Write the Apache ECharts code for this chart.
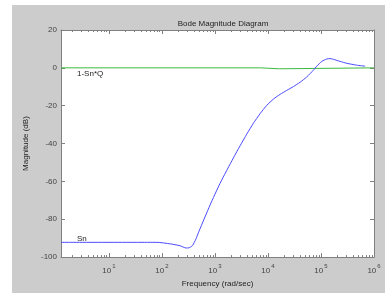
<!DOCTYPE html>
<html>
<head>
<meta charset="utf-8">
<script src="https://cdn.jsdelivr.net/npm/echarts@6/dist/echarts.min.js"></script>
<style>
html,body{margin:0;padding:0;background:#fff;}
#bg{position:absolute;left:12px;top:5px;width:373px;height:288px;background:#cccccc;}
#chart{position:absolute;left:0;top:0;width:385px;height:293px;}
</style>
</head>
<body>
<div id="bg"></div>
<div id="chart"></div>
<script>
// Frequencies (rad/sec) and magnitudes (dB)
const snFreq = [1.25, 81, 143, 220, 286, 331, 380, 437, 501, 809, 1250, 2228, 2979, 3990, 5309, 7112, 9506, 12680, 16940, 22650, 30200, 40360, 53950, 72110, 83370, 103700, 128800, 147900, 171800, 229100, 306900, 474300, 680800];
const snMag  = [-92.2, -92.2, -93.0, -94.0, -95.2, -95.0, -93.8, -90.5, -86.3, -72.5, -61.0, -47.6, -41.2, -35.0, -29.3, -24.2, -19.8, -16.5, -14.0, -11.9, -9.9, -7.6, -4.8, -1.2, 0.9, 3.4, 4.7, 4.9, 4.5, 3.4, 2.4, 1.4, 0.9];
const tFreq = [1.25, 7300, 7500, 16500, 17000, 1000000];
const tMag  = [0, 0, -0.5, -0.5, 0, 0];
const decades = [1, 10, 100, 1000, 10000, 100000, 1000000];
const minorMult = [2, 3, 4, 5, 6, 7, 8, 9];

const minorTicks = [];
decades.forEach(d => minorMult.forEach(m => { const v = d * m; if (v > 1.25 && v < 1e6) minorTicks.push([v, 0]); }));

const chart = echarts.init(document.getElementById('chart'), null, {renderer: 'canvas'});
const FONT = 'Liberation Sans, Arial, sans-serif';
const AX = '#808080';
const xFmt = v => {
  const l = Math.log10(v); const e = Math.round(l);
  if (Math.abs(l - e) > 1e-6) return '';
  return '{b|10}{s|' + e + '}';
};
const xAxisBase = {
  type: 'log', logBase: 10, min: 1.25, max: 1e6, splitNumber: 6,
  axisLine: {show: true, onZero: false, lineStyle: {color: AX, width: 1}},
  axisTick: {show: true, inside: true, length: 4, lineStyle: {color: AX}},
  splitLine: {show: false},
  minorTick: {show: false}
};
const yAxisBase = {
  type: 'value', min: -100, max: 20, interval: 20,
  axisLine: {show: true, onZero: false, lineStyle: {color: AX, width: 1}},
  axisTick: {show: true, inside: true, length: 4, lineStyle: {color: AX}},
  splitLine: {show: false}
};
chart.setOption({
  animation: false,
  backgroundColor: 'transparent',
  textStyle: {fontFamily: FONT},
  title: {
    text: 'Bode Magnitude Diagram', left: 218, top: 15, textAlign: 'center',
    textStyle: {fontFamily: FONT, fontSize: 8, fontWeight: 'normal', color: '#222'}
  },
  grid: {left: 61, right: 11, top: 30, bottom: 32, show: true, backgroundColor: '#ffffff', borderWidth: 0},
  xAxis: [
    Object.assign({}, xAxisBase, {
      position: 'bottom',
      name: 'Frequency (rad/sec)', nameLocation: 'middle', nameGap: 22,
      nameTextStyle: {fontFamily: FONT, fontSize: 8, color: '#222'},
      axisLabel: {
        show: true, margin: 6, formatter: xFmt, showMinLabel: true,
        rich: {
          b: {fontFamily: FONT, fontSize: 8, color: '#444', lineHeight: 12, verticalAlign: 'bottom'},
          s: {fontFamily: FONT, fontSize: 6, color: '#444', lineHeight: 12, verticalAlign: 'top', padding: [0, 0, 5, 1]}
        }
      }
    }),
    Object.assign({}, xAxisBase, {position: 'top', axisLabel: {show: false}})
  ],
  yAxis: [
    Object.assign({}, yAxisBase, {
      position: 'left',
      name: 'Magnitude (dB)', nameLocation: 'middle', nameGap: 26, nameRotate: 90,
      nameTextStyle: {fontFamily: FONT, fontSize: 8, color: '#222'},
      axisLabel: {show: true, margin: 4, fontFamily: FONT, fontSize: 8, color: '#444'}
    }),
    Object.assign({}, yAxisBase, {position: 'right', axisLabel: {show: false}})
  ],
  graphic: [
    {type: 'text', left: 77, top: 70, silent: true, style: {text: '1-Sn*Q', font: '8px ' + FONT, fill: '#222'}},
    {type: 'text', left: 77, top: 235, silent: true, style: {text: 'Sn', font: '8px ' + FONT, fill: '#222'}}
  ],
  series: [
    {
      name: '1-Sn*Q', type: 'line', xAxisIndex: 0, yAxisIndex: 0,
      data: tFreq.map((f, i) => [f, tMag[i]]),
      showSymbol: false, lineStyle: {color: '#3cb93c', width: 1}, z: 3
    },
    {
      name: 'Sn', type: 'line', xAxisIndex: 0, yAxisIndex: 0,
      data: snFreq.map((f, i) => [f, snMag[i]]),
      smooth: 0.2, showSymbol: false, lineStyle: {color: '#4a4aff', width: 1}, z: 4
    },
    {
      name: 'minor', type: 'custom', xAxisIndex: 0, yAxisIndex: 0, silent: true, clip: false, z: 5,
      data: minorTicks,
      renderItem: function (params, api) {
        const pb = api.coord([api.value(0), -100]);
        const pt = api.coord([api.value(0), 20]);
        const x = Math.round(pb[0]) + 0.5;
        const st = {stroke: AX, lineWidth: 1};
        return {type: 'group', children: [
          {type: 'line', shape: {x1: x, y1: pb[1], x2: x, y2: pb[1] - 2}, style: st},
          {type: 'line', shape: {x1: x, y1: pt[1], x2: x, y2: pt[1] + 2}, style: st}
        ]};
      }
    }
  ]
});
</script>
</body>
</html>
